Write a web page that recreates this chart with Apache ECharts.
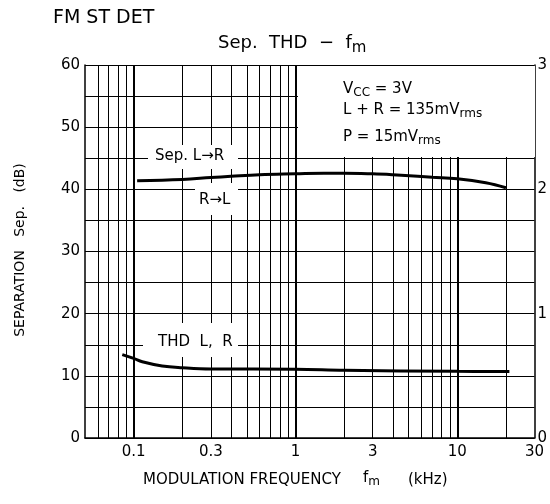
<!DOCTYPE html>
<html><head><meta charset="utf-8">
<script src="https://cdn.jsdelivr.net/npm/echarts@6/dist/echarts.min.js"></script>
<style>html,body{margin:0;padding:0;background:#fff}#c{width:550px;height:504px}</style>
</head><body><div id="c"></div>
<script>
// ---- data ----
const xTickLabels = [0.1, 0.3, 1, 3, 10, 30];
const leftTicks = [0, 10, 20, 30, 40, 50, 60];
const rightTicks = [0, 1, 2, 3];
const sepFreq = [0.105, 0.2, 0.3, 0.4, 0.6, 1, 1.5, 2, 3, 4, 5.7, 7, 10, 15, 20];
const sepValues = [41.4, 41.6, 41.9, 42.1, 42.35, 42.5, 42.6, 42.6, 42.5, 42.35, 42.1, 41.95, 41.7, 41.05, 40.25];
const thdFreq = [0.085, 0.1, 0.113, 0.15, 0.2, 0.3, 1, 2, 10, 21];
const thdValues = [0.671, 0.64, 0.613, 0.579, 0.565, 0.555, 0.553, 0.545, 0.536, 0.535];
const minorGrid = [0.06, 0.07, 0.08, 0.09, 0.2, 0.3, 0.4, 0.5, 0.6, 0.7, 0.8, 0.9, 2, 3, 4, 5, 6, 7, 8, 9, 20];
const majorGrid = [0.1, 1, 10];

const FONT = 'DejaVu Sans';
const chart = echarts.init(document.getElementById('c'), null, {renderer: 'canvas'});

const gridLines = minorGrid.map(v => ({xAxis: v, lineStyle: {width: 1}}))
  .concat(majorGrid.map(v => ({xAxis: v, lineStyle: {width: 2}})));

function txt(x, y, text, size, extra) {
  return Object.assign({
    type: 'text', x: x, y: y, z: 110,
    style: {
      text: text, fill: '#000', fontSize: size, fontFamily: FONT,
      align: 'left', verticalAlign: 'middle',
      rich: {
        n: {fontSize: size, fontFamily: FONT, fill: '#000'},
        s: {fontSize: size - 3, fontFamily: FONT, fill: '#000', padding: [Math.round(size * 0.55), 0, 0, 0]}
      }
    }
  }, extra || {});
}
function box(x, y, w, h) {
  return {type: 'rect', z: 100, shape: {x: x, y: y, width: w, height: h}, style: {fill: '#fff'}};
}

const option = {
  animation: false,
  backgroundColor: '#fff',
  grid: {left: 85, right: 14, top: 65, bottom: 66, show: false},
  xAxis: {
    type: 'log', logBase: 10, min: 0.05, max: 30,
    axisLine: {show: true, onZero: false, lineStyle: {color: '#000', width: 1.5}},
    axisTick: {show: false},
    splitLine: {show: false},
    minorTick: {show: false},
    axisLabel: {customValues: xTickLabels, formatter: v => String(+v.toPrecision(3)),
      color: '#000', fontSize: 15, fontFamily: FONT, margin: 7}
  },
  yAxis: [{
    type: 'value', min: 0, max: 60, interval: 5, position: 'left',
    axisLine: {show: true, lineStyle: {color: '#000', width: 1.5}},
    axisTick: {show: false},
    splitLine: {show: true, lineStyle: {color: '#000', width: 1}},
    axisLabel: {customValues: leftTicks, color: '#000', fontSize: 15, fontFamily: FONT, margin: 5}
  }, {
    type: 'value', min: 0, max: 3, interval: 0.5, position: 'right',
    axisLine: {show: true, lineStyle: {color: '#000', width: 1.5}},
    axisTick: {show: false},
    splitLine: {show: false},
    axisLabel: {customValues: rightTicks, color: '#000', fontSize: 15, fontFamily: FONT, margin: 3}
  }],
  series: [{
    name: 'Sep', type: 'line', yAxisIndex: 0, smooth: 0.4, symbol: 'none',
    lineStyle: {color: '#000', width: 3},
    data: sepFreq.map((f, i) => [f, sepValues[i]]),
    markLine: {symbol: 'none', silent: true, animation: false, label: {show: false},
      lineStyle: {color: '#000', type: 'solid', width: 1}, data: gridLines}
  }, {
    name: 'THD', type: 'line', yAxisIndex: 1, smooth: 0.4, symbol: 'none',
    lineStyle: {color: '#000', width: 3},
    data: thdFreq.map((f, i) => [f, thdValues[i]])
  }],
  graphic: [
    box(298, 66, 237, 91),
    box(148, 145, 90, 24),
    box(195, 183, 43, 32),
    box(143, 323, 95, 34),
    txt(53, 18, 'FM ST DET', 19),
    txt(218, 43, '{n|Sep.  THD  \u2212  f}{s|m}', 18),
    txt(343, 89, '{n|V}{s|CC}{n| = 3V}', 15),
    txt(343, 110, '{n|L + R = 135mV}{s|rms}', 15),
    txt(343, 137, '{n|P = 15mV}{s|rms}', 15),
    txt(155, 156, 'Sep. L\u2192R', 15),
    txt(199, 200, 'R\u2192L', 15),
    txt(158, 342, 'THD  L,  R', 15),
    txt(143, 480, 'MODULATION FREQUENCY', 15),
    txt(363, 478, '{n|f}{s|m}', 15),
    txt(408, 480, '(kHz)', 15),
    txt(20, 250, 'SEPARATION   Sep.   (dB)', 14, {rotation: Math.PI / 2, style: {
      text: 'SEPARATION   Sep.   (dB)', fill: '#000', fontSize: 14, fontFamily: FONT,
      align: 'center', verticalAlign: 'middle'}})
  ]
};
chart.setOption(option);
</script>
</body></html>
